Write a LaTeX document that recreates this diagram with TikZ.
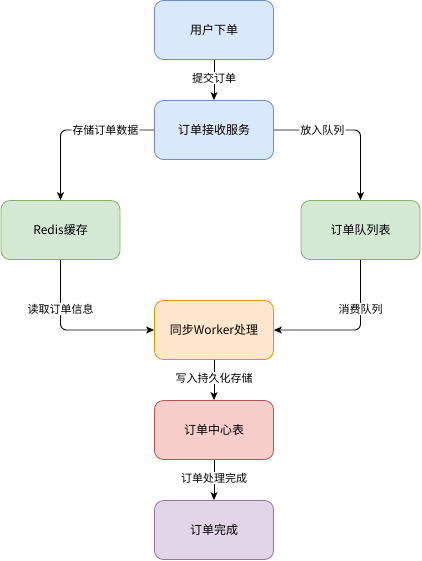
\documentclass[tikz,border=0pt]{standalone}
\usepackage{fontspec}
\setmainfont{Noto Sans CJK SC}
\usetikzlibrary{arrows.meta}
\definecolor{bfill}{HTML}{DAE8FC}\definecolor{bdraw}{HTML}{6C8EBF}
\definecolor{gfill}{HTML}{D5E8D4}\definecolor{gdraw}{HTML}{82B366}
\definecolor{ofill}{HTML}{FFE6CC}\definecolor{odraw}{HTML}{D79B00}
\definecolor{rfill}{HTML}{F8CECC}\definecolor{rdraw}{HTML}{B85450}
\definecolor{pfill}{HTML}{E1D5E7}\definecolor{pdraw}{HTML}{9673A6}
\tikzset{
  box/.style={rectangle, rounded corners=9pt, minimum width=119pt, minimum height=59pt, line width=0.8pt, font=\fontsize{12}{14}\selectfont, inner sep=0pt},
  bluebox/.style={box, fill=bfill, draw=bdraw},
  greenbox/.style={box, fill=gfill, draw=gdraw},
  orangebox/.style={box, fill=ofill, draw=odraw},
  redbox/.style={box, fill=rfill, draw=rdraw},
  purplebox/.style={box, fill=pfill, draw=pdraw},
  conn/.style={draw=black, line width=0.9pt, -{Stealth[length=8pt,width=7pt,inset=2pt]}, rounded corners=6pt},
  lbl/.style={fill=white, font=\fontsize{11}{13}\selectfont, inner sep=1pt}
}
\begin{document}
\begin{tikzpicture}[x=1pt,y=-1pt]
\useasboundingbox (0,0) rectangle (421,561);
\node[bluebox] (user) at (214,30) {用户下单};
\node[bluebox] (recv) at (214,130) {订单接收服务};
\node[greenbox] (redis) at (60.5,230) {Redis缓存};
\node[greenbox] (queue) at (360.5,230) {订单队列表};
\node[orangebox] (worker) at (214,330) {同步Worker处理};
\node[redbox] (center) at (214,430) {订单中心表};
\node[purplebox] (done) at (214,530) {订单完成};

\draw[conn] (user) -- node[lbl, pos=0.45] {提交订单} (recv);
\draw[conn] (recv.west) -| node[lbl, pos=0.26] {存储订单数据} (redis.north);
\draw[conn] (recv.east) -| node[lbl, pos=0.28] {放入队列} (queue.north);
\draw[conn] (redis.south) |- node[lbl, pos=0.35] {读取订单信息} (worker.west);
\draw[conn] (queue.south) |- node[lbl, pos=0.35] {消费队列} (worker.east);
\draw[conn] (worker) -- node[lbl, pos=0.45] {写入持久化存储} (center);
\draw[conn] (center) -- node[lbl, pos=0.45] {订单处理完成} (done);
\end{tikzpicture}
\end{document}
